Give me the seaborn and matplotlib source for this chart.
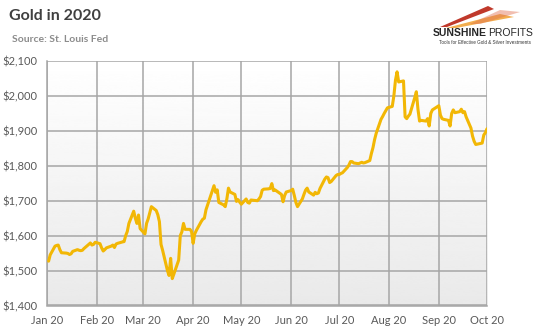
import numpy as np
import pandas as pd
import matplotlib
matplotlib.use("Agg")
import matplotlib.pyplot as plt
import matplotlib.dates as mdates
import matplotlib.ticker as mticker
from matplotlib.patches import Polygon
import seaborn as sns

# ---- data (LBMA gold price, USD/oz) ----
jan_days = [2, 3, 6, 7, 8, 9, 10, 13, 14, 15, 16, 17, 20, 21, 22, 23, 24, 27, 28, 29, 30, 31]
jan_prices = [1527, 1545, 1570, 1572, 1573, 1560, 1551, 1550, 1549, 1546, 1548, 1555, 1560, 1558,
              1557, 1558, 1563, 1575, 1579, 1573, 1575, 1581]
feb_days = [3, 4, 5, 6, 7, 10, 11, 12, 13, 14, 17, 18, 19, 20, 21, 24, 25, 26, 27, 28]
feb_prices = [1577, 1565, 1556, 1560, 1565, 1570, 1573, 1566, 1576, 1578, 1582, 1583, 1600, 1612,
              1635, 1670, 1650, 1635, 1659, 1620]
mar_days = [2, 3, 4, 5, 6, 9, 10, 11, 12, 13, 16, 17, 18, 19, 20, 23, 24, 25, 26, 27, 30, 31]
mar_prices = [1605, 1635, 1648, 1665, 1683, 1672, 1660, 1640, 1575, 1558, 1500, 1486, 1535, 1477,
              1490, 1530, 1600, 1611, 1635, 1618, 1618, 1612]
apr_days = [1, 2, 3, 6, 7, 8, 9, 14, 15, 16, 17, 20, 21, 22, 23, 24, 27, 28, 29, 30]
apr_prices = [1578, 1605, 1615, 1640, 1647, 1650, 1674, 1743, 1724, 1731, 1695, 1688, 1683, 1705,
              1736, 1725, 1718, 1698, 1703, 1696]
may_days = [1, 4, 5, 6, 7, 11, 12, 13, 14, 15, 18, 19, 20, 21, 22, 26, 27, 28, 29]
may_prices = [1690, 1705, 1695, 1693, 1702, 1700, 1705, 1712, 1730, 1733, 1734, 1735, 1749, 1729,
              1731, 1718, 1697, 1715, 1725]
jun_days = [1, 2, 3, 4, 5, 8, 9, 10, 11, 12, 15, 16, 17, 18, 19, 22, 23, 24, 25, 26, 29, 30]
jun_prices = [1729, 1733, 1715, 1695, 1683, 1705, 1718, 1730, 1736, 1725, 1716, 1724, 1720, 1722,
              1735, 1762, 1768, 1766, 1752, 1755, 1772, 1775]
jul_days = [1, 2, 3, 6, 7, 8, 9, 10, 13, 14, 15, 16, 17, 20, 21, 22, 23, 24, 27, 28, 29, 30, 31]
jul_prices = [1775, 1778, 1780, 1795, 1802, 1812, 1812, 1808, 1806, 1808, 1810, 1808, 1809, 1815,
              1835, 1852, 1875, 1893, 1933, 1941, 1950, 1958, 1966]
aug_days = [3, 4, 5, 6, 7, 10, 11, 12, 13, 14, 17, 18, 19, 20, 21, 24, 25, 26, 27, 28]
aug_prices = [1970, 2000, 2045, 2069, 2040, 2043, 1940, 1935, 1942, 1948, 1995, 2012, 1962, 1928,
              1930, 1928, 1935, 1914, 1950, 1960]
sep_days = [1, 2, 3, 4, 7, 8, 9, 10, 11, 14, 15, 16, 17, 18, 21, 22, 23, 24, 25, 28, 29, 30]
sep_prices = [1972, 1945, 1935, 1933, 1930, 1914, 1950, 1960, 1952, 1955, 1962, 1952, 1955, 1940,
              1908, 1885, 1870, 1861, 1862, 1865, 1888, 1895]
oct_days = [1]
oct_prices = [1906]

months = [(1, jan_days, jan_prices), (2, feb_days, feb_prices), (3, mar_days, mar_prices),
          (4, apr_days, apr_prices), (5, may_days, may_prices), (6, jun_days, jun_prices),
          (7, jul_days, jul_prices), (8, aug_days, aug_prices), (9, sep_days, sep_prices),
          (10, oct_days, oct_prices)]
dates, prices = [], []
for m, ds, ps in months:
    assert len(ds) == len(ps), m
    dates += [pd.Timestamp(2020, m, d) for d in ds]
    prices += ps
df = pd.DataFrame({"date": dates, "price": prices})

title = "Gold in 2020"
subtitle = "Source: St. Louis Fed"
y_ticks = [1400, 1500, 1600, 1700, 1800, 1900, 2000, 2100]

# ---- styling ----
W, H = 545, 335
grid_c = "#a6a6a6"
lab_c = "#595959"
line_c = "#F2B705"

sns.set_style("white")
plt.rcParams["font.family"] = ["Lato", "DejaVu Sans"]

fig = plt.figure(figsize=(W / 100, H / 100), dpi=100)
fig.patch.set_facecolor("white")
ax = fig.add_axes([47 / W, (H - 305.5) / H, 440 / W, (305.5 - 61) / H])

# gradient background (light grey top -> white bottom)
grad = np.linspace(0.915, 1.0, 256).reshape(-1, 1)
ax.imshow(grad, extent=[0, 1, 1, 0], transform=ax.transAxes, aspect="auto",
          cmap="gray", vmin=0, vmax=1, zorder=0, interpolation="bicubic")

sns.lineplot(data=df, x="date", y="price", ax=ax, color=line_c, linewidth=2.2, zorder=3)

ax.set_xlim(pd.Timestamp(2020, 1, 1), pd.Timestamp(2020, 10, 1))
ax.set_ylim(1400, 2100)
ax.set_yticks(y_ticks)
ax.yaxis.set_major_formatter(mticker.FuncFormatter(lambda v, p: f"${v:,.0f}"))
ax.xaxis.set_major_locator(mdates.MonthLocator())
ax.xaxis.set_major_formatter(mdates.DateFormatter("%b %y"))
ax.set_xlabel("")
ax.set_ylabel("")

ax.grid(True, color=grid_c, linewidth=1.1, zorder=1)
ax.set_axisbelow(True)
for s in ["top", "right"]:
    ax.spines[s].set_visible(False)
for s in ["left", "bottom"]:
    ax.spines[s].set_color(grid_c)
    ax.spines[s].set_linewidth(1.1)
ax.tick_params(axis="y", length=5, width=1.1, color=grid_c, labelsize=8, labelcolor=lab_c, pad=2)
ax.tick_params(axis="x", length=3, width=1.1, color=grid_c, labelsize=8, labelcolor=lab_c, pad=4)

# titles
fig.text(9 / W, 1 - 16 / H, title, fontsize=11.5, fontweight="bold", color="#404040",
         va="center", ha="left")
fig.text(12 / W, 1 - 40 / H, subtitle, fontsize=7.5, fontweight="bold", color="#8c8c8c",
         va="center", ha="left")

# logo
def fpoly(pts, color, alpha=1.0):
    p = Polygon([(x / W, 1 - y / H) for x, y in pts], closed=True, transform=fig.transFigure,
                facecolor=color, edgecolor="none", alpha=alpha)
    fig.patches.append(p)

fpoly([(440, 27), (488, 6), (494, 9), (447, 27)], "#c0392b")
fpoly([(446, 28), (500, 14), (514, 17), (456, 28)], "#f0a030", 0.85)
fpoly([(470, 24), (500, 10), (520, 12), (480, 24)], "#e07050", 0.45)
fig.text(433 / W, 1 - 33 / H, "SUNSHINE", fontsize=7.5, fontweight="bold", color="#262626",
         va="center", ha="left", family=["Liberation Sans", "DejaVu Sans"])
fig.text(488 / W, 1 - 33 / H, "PROFITS", fontsize=7.5, color="#262626",
         va="center", ha="left", family=["Liberation Sans", "DejaVu Sans"])
fig.text(485 / W, 1 - 42 / H, "Tools for Effective Gold & Silver Investments", fontsize=3.3,
         color="#333333", va="center", ha="center", family=["Liberation Sans", "DejaVu Sans"])

fig.savefig("out.png", dpi=100)
